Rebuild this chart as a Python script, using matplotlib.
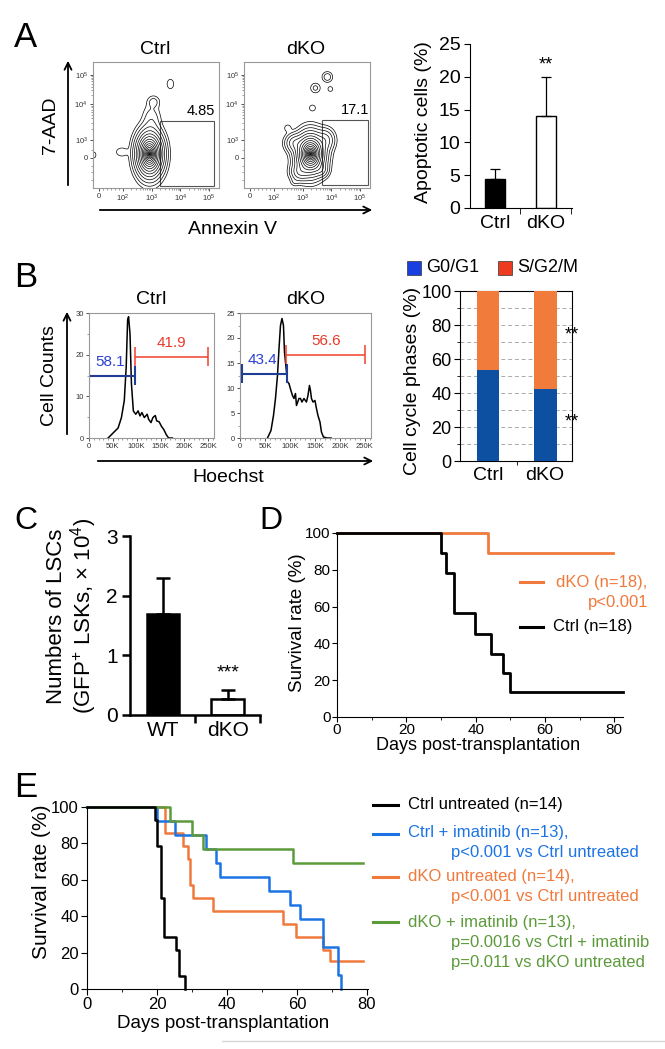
import numpy as np
import matplotlib
matplotlib.use('Agg')
import matplotlib.pyplot as plt
from matplotlib.patches import Rectangle, FancyArrowPatch
from matplotlib.lines import Line2D

plt.rcParams['font.family'] = ['Liberation Sans', 'DejaVu Sans']
plt.rcParams['mathtext.fontset'] = 'custom'
plt.rcParams['mathtext.rm'] = 'Liberation Sans'
plt.rcParams['mathtext.it'] = 'Liberation Sans:italic'
plt.rcParams['mathtext.bf'] = 'Liberation Sans:bold'

# ---------------- data ----------------
# A: flow plots, density blobs (x, y, sx, sy, weight)
facs_xticks = [6, 30, 59, 88, 117]
facs_xlabels = ['0', '$10^2$', '$10^3$', '$10^4$', '$10^5$']
facs_yticks = [30, 48, 84, 113]
facs_ylabels = ['0', '$10^3$', '$10^4$', '$10^5$']
ctrl_blobs = [(57, 34, 6.5, 11, 1.0), (59, 68, 5, 9, 0.025), (61, 86, 3.5, 3.5, 0.02),
              (29, 36, 4, 3, 0.012), (78, 104, 2.5, 3.5, 0.012), (1, 33, 2, 3, 0.008)]
dko_blobs = [(67, 34, 7, 10, 1.0), (51, 45, 5, 5, 0.1), (82, 48, 5, 6, 0.08),
             (56, 16, 5, 5, 0.1), (78, 18, 4, 4, 0.06),
             (69, 80, 2.5, 2.5, 0.01), (44, 60, 2.5, 2.5, 0.01), (51, 6, 2.5, 2.5, 0.01),
             (72, 100, 3, 3, 0.018), (84, 111, 3, 3, 0.025), (87, 99, 2, 2, 0.01)]
ctrl_gate = (68, 2, 122, 67)
dko_gate = (79, 3, 125, 68)
apop_gate_pct = ['4.85', '17.1']

# A: bar chart
apop_groups = ['Ctrl', 'dKO']
apop_mean = [4.4, 14.0]
apop_err = [1.6, 6.0]

# B: Hoechst histograms (x in K, counts)
ctrl_hist_k = [40, 61, 68, 74, 78, 81, 83, 86, 89, 93, 98, 103, 107, 111, 116, 122, 125,
               130, 134, 139, 142, 147, 152, 157, 162, 167, 175]
ctrl_hist_n = [0, 2.4, 4.9, 9, 17, 28.4, 29.1, 25, 13, 6.5, 5.7, 6.5, 5.3, 6.1, 4.9, 5.7,
               4.5, 3.7, 4.9, 5.4, 4.1, 3.9, 2.8, 2.0, 0.8, 0, 0]
dko_hist_k = [55, 62, 67, 71, 75, 78, 81, 84, 87, 89, 93, 95, 98, 101, 105, 108, 111, 113,
              118, 121, 124, 128, 133, 136, 139, 141, 143, 146, 150, 153, 156, 160, 163,
              167, 174, 182]
dko_hist_n = [0, 1.5, 4.5, 7.9, 12.5, 17.8, 22.5, 23.9, 22.5, 17.2, 13.2, 11.2, 10.9, 9.8,
              8.5, 7.9, 8.9, 6.5, 7.9, 7.9, 7.2, 7.9, 7.2, 8.5, 10.5, 9.5, 7.9, 7.2, 7.5,
              5.9, 4.5, 3.2, 1.2, 0.2, 0, 0]
# gates: (start K, end K, level, label)
ctrl_gates = [(0, 96, 15.0, '58.1'), (96, 250, 19.5, '41.9')]
dko_gates = [(4, 95, 12.9, '43.4'), (93, 250, 16.7, '56.6')]

# B: cell cycle phases
cc_groups = ['Ctrl', 'dKO']
g0g1 = [53.5, 42.5]
s_g2m = [46.5, 57.5]

# C: LSC numbers
lsc_groups = ['WT', 'dKO']
lsc_mean = [1.7, 0.27]
lsc_err = [0.6, 0.15]

# D: survival
d_ctrl_days = [0, 30, 31.5, 33.7, 39.7, 44.5, 47.9, 49.8, 82.5]
d_ctrl_surv = [100, 89, 78, 56.5, 45, 34.5, 24, 13.5, 13.5]
d_dko_days = [0, 43.6, 79.6]
d_dko_surv = [100, 89, 89]

# E: survival with imatinib
e_ctrl_days = [0, 19.4, 20.0, 21.1, 22.1, 25.3, 26.3, 28.1]
e_ctrl_surv = [100, 92.9, 78.6, 50, 28.6, 21.4, 7.1, 0]
e_imat_days = [0, 20.0, 25.1, 34.0, 37.0, 38.0, 52.1, 57.9, 60.9, 67.4, 71.6, 72.6]
e_imat_surv = [100, 92.3, 84.6, 76.9, 69.2, 61.5, 53.8, 46.2, 38.5, 23.1, 7.7, 0]
e_dko_days = [0, 22.4, 27.3, 28.9, 29.4, 30.4, 35.9, 56.1, 59.8, 67.4, 69.5, 79.0]
e_dko_surv = [100, 85.7, 78.6, 71.4, 57.1, 50, 42.9, 35.7, 28.6, 21.4, 15.5, 15.5]
e_comb_days = [0, 23.7, 29.9, 33.2, 59.0, 79.0]
e_comb_surv = [100, 92.3, 84.6, 76.9, 69.2, 69.2]

BLUE_L = '#1c74e4'
ORANGE = '#f07a3c'
GREEN = '#5c9a3a'

# ---------------- helpers ----------------
W, H = 665, 1049
fig = plt.figure(figsize=(W / 100, H / 100), dpi=100)


def axes_px(l, t, r, b):
    return fig.add_axes([l / W, 1 - b / H, (r - l) / W, (b - t) / H])


def ftext(x, y, s, **kw):
    fig.text(x / W, 1 - y / H, s, **kw)


def farrow(x1, y1, x2, y2):
    fig.add_artist(FancyArrowPatch((x1 / W, 1 - y1 / H), (x2 / W, 1 - y2 / H),
                                   transform=fig.transFigure, color='k', lw=1.3,
                                   arrowstyle='->,head_length=0.5,head_width=0.25',
                                   mutation_scale=10))


def fline(x1, x2, y, color, lw=2.2):
    fig.add_artist(Line2D([x1 / W, x2 / W], [1 - y / H, 1 - y / H],
                          transform=fig.transFigure, color=color, lw=lw))


def blob_density(blobs, X, Y):
    Z = np.zeros_like(X)
    for bx, by, sx, sy, w in blobs:
        Z += w * np.exp(-0.5 * (((X - bx) / sx) ** 2 + ((Y - by) / sy) ** 2))
    return Z


# panel letters
for letter, x, y, fs in [('A', 14, 47, 25), ('B', 14, 287, 25), ('C', 14, 529, 23),
                         ('D', 259, 529, 23), ('E', 14, 797, 25)]:
    ftext(x, y, letter, fontsize=fs, va='baseline', ha='left')

# ---------------- A: contour plots ----------------
gx, gy = np.meshgrid(np.linspace(0, 127, 500), np.linspace(0, 126, 500))
ring_r = 3.25 * (np.arange(1, 19) / 18) ** 1.8
levels = np.sort(np.exp(-0.5 * ring_r ** 2))
xminor = []
for a, b in zip(facs_xticks[1:-1], facs_xticks[2:]):
    xminor += [a + np.log10(m) * (b - a) for m in range(2, 10)]
xminor += [6 + 4 * i for i in range(1, 6)]
yminor = []
for a, b in zip(facs_yticks[1:-1], facs_yticks[2:]):
    yminor += [a + np.log10(m) * (b - a) for m in range(2, 10)]
yminor += [8, 16, 22, 38]

for left, title, blobs, gate, pct in [(93, 'Ctrl', ctrl_blobs, ctrl_gate, apop_gate_pct[0]),
                                      (244, 'dKO', dko_blobs, dko_gate, apop_gate_pct[1])]:
    ax = axes_px(left, 62, left + 126, 188)
    ax.contour(gx, gy, blob_density(blobs, gx, gy), levels=levels, colors='k',
               linewidths=0.5)
    x0, y0, x1, y1 = gate
    ax.add_patch(Rectangle((x0, y0), x1 - x0, y1 - y0, fill=False, ec='#555', lw=0.8))
    ax.text(x1 + 1, y1 + 3, pct, ha='right', va='bottom', fontsize=10.5)
    ax.set_xlim(0, 127)
    ax.set_ylim(0, 126)
    ax.set_xticks(facs_xticks, facs_xlabels, fontsize=5.5)
    ax.set_yticks(facs_yticks, facs_ylabels, fontsize=5.5)
    ax.set_xticks(xminor, minor=True)
    ax.set_yticks(yminor, minor=True)
    ax.tick_params(length=2.2, width=0.6, pad=1.5, colors='#333')
    ax.tick_params(which='minor', length=1.3, width=0.4, colors='#555')
    for s in ax.spines.values():
        s.set_color('#999')
        s.set_linewidth(0.8)
    ftext(left + 62, 49, title, fontsize=14, ha='center', va='center')

farrow(68, 188, 68, 58)
ftext(51, 125, '7-AAD', fontsize=14, rotation=90, ha='center', va='center')
farrow(97, 210, 375, 210)
ftext(232, 229, 'Annexin V', fontsize=14, ha='center', va='center')

# ---------------- A: apoptotic bar ----------------
ax = axes_px(470, 44, 572, 208)
xa = np.arange(len(apop_groups))
ax.bar(xa, apop_mean, width=0.41, color=['k', 'w'], edgecolor='k', lw=1)
ax.errorbar(xa, apop_mean, yerr=[np.zeros(2), apop_err], fmt='none', ecolor='k',
            elinewidth=0.9, capsize=3.5, capthick=0.9)
ax.text(1, 21.8, '**', ha='center', va='center', fontsize=13)
ax.set_xlim(-0.49, 1.51)
ax.set_ylim(0, 25)
ax.set_yticks(range(0, 26, 5))
ax.set_xticks(xa, apop_groups)
ax.set_xticks([0.5, 1.5], minor=True)
ax.tick_params(axis='x', which='major', length=0, pad=5, labelsize=14)
ax.tick_params(axis='x', which='minor', length=4, direction='out')
ax.tick_params(axis='y', labelsize=14, length=4, pad=3)
for s in ['top', 'right']:
    ax.spines[s].set_visible(False)
ftext(423, 122, 'Apoptotic cells (%)', fontsize=14, rotation=90, ha='center', va='center')

# ---------------- B: histograms ----------------
for left, right, title, hk, hn, gates, ymax, ystep in [
        (89, 214, 'Ctrl', ctrl_hist_k, ctrl_hist_n, ctrl_gates, 30, 10),
        (240, 371, 'dKO', dko_hist_k, dko_hist_n, dko_gates, 25, 5)]:
    ax = axes_px(left, 313, right, 438)
    ax.plot(np.array(hk) * 1000, hn, color='k', lw=1.1)
    gcols = [('#1f3c96', '#2d3fd0', 1.5), ('#f0402c', '#e83a2a', 1.1)]
    for (g0, g1, lev, lab), (lc, tc, glw) in zip(gates, gcols):
        ax.hlines(lev, g0 * 1000, g1 * 1000, color=lc, lw=glw)
        ax.vlines([g0 * 1000, g1 * 1000], lev - ymax * 0.075, lev + ymax * 0.075, color=lc,
                  lw=glw)
        ax.text((g0 + g1) / 2 * 1000 if g0 > 50 else 45000, lev + ymax * 0.055, lab,
                color=tc, ha='center', va='bottom', fontsize=11)
    ax.set_xlim(0, 262144)
    ax.set_ylim(0, ymax)
    ax.set_xticks(range(0, 250001, 50000), ['0', '50K', '100K', '150K', '200K', '250K'],
                  fontsize=5.5)
    ax.set_xticks(range(0, 262144, 10000), minor=True)
    ax.set_yticks(range(0, ymax + 1, ystep))
    ax.set_yticks(np.arange(0, ymax + 0.1, ystep / 2), minor=True)
    ax.tick_params(labelsize=5.5, length=2.2, width=0.6, pad=1.5, colors='#333')
    ax.tick_params(which='minor', length=1.2, width=0.4, colors='#555')
    for s in ax.spines.values():
        s.set_color('#999')
        s.set_linewidth(0.8)
    ftext((left + right) / 2, 299, title, fontsize=14, ha='center', va='center')

farrow(67, 437, 67, 309)
ftext(50, 376, 'Cell Counts', fontsize=14, rotation=90, ha='center', va='center')
farrow(95, 461, 376, 461)
ftext(228, 478, 'Hoechst', fontsize=14, ha='center', va='center')

# ---------------- B: cell cycle bars ----------------
ax = axes_px(460, 291, 572, 461)
xb = np.arange(len(cc_groups))
ax.bar(xb, g0g1, width=0.4, color='#0d4fa0', zorder=3)
ax.bar(xb, s_g2m, bottom=g0g1, width=0.4, color='#f07b3a', zorder=3)
ax.set_xlim(-0.49, 1.47)
ax.set_ylim(0, 100)
ax.set_yticks(range(0, 101, 20))
ax.set_yticks(range(0, 101, 10), minor=True)
ax.yaxis.grid(True, which='both', ls=(0, (4, 3)), color='#aaa', lw=0.7)
ax.set_axisbelow(True)
ax.set_xticks(xb, cc_groups)
ax.set_xticks([0.5], minor=True)
ax.tick_params(axis='x', which='major', length=0, pad=4, labelsize=14)
ax.tick_params(axis='x', which='minor', length=3)
ax.tick_params(axis='y', labelsize=13, length=4, pad=2)
ax.tick_params(axis='y', which='minor', length=2)
ax.text(1.47, 74, '**', ha='center', va='center', fontsize=13, clip_on=False)
ax.text(1.47, 23, '**', ha='center', va='center', fontsize=13, clip_on=False)
ftext(412, 381, 'Cell cycle phases (%)', fontsize=14, rotation=90, ha='center', va='center')

for x, col, lab in [(407, '#1a3fe0', 'G0/G1'), (498, '#ee3b1f', 'S/G2/M')]:
    fig.add_artist(Rectangle((x / W, 1 - 275 / H), 14 / W, 14 / H, transform=fig.transFigure,
                             facecolor=col, edgecolor='#333', lw=0.5))
    ftext(x + 19, 268, lab, fontsize=13, ha='left', va='center')

# ---------------- C: LSC numbers ----------------
ax = axes_px(130, 536, 260, 715)
xc = np.arange(len(lsc_groups))
ax.bar(xc, lsc_mean, width=0.5, color=['k', 'w'], edgecolor='k', lw=1.8)
ax.errorbar(xc, lsc_mean, yerr=[np.zeros(2), lsc_err], fmt='none', ecolor='k',
            elinewidth=1.8, capsize=5, capthick=1.8)
ax.text(1, 0.7, '***', ha='center', va='center', fontsize=14)
ax.set_xlim(-0.51, 1.5)
ax.set_ylim(0, 3)
ax.set_yticks([0, 1, 2, 3])
ax.set_xticks(xc, lsc_groups)
ax.set_xticks([0.5, 1.5], minor=True)
ax.tick_params(axis='x', which='major', length=0, pad=4, labelsize=15)
ax.tick_params(axis='x', which='minor', length=6, width=1.8)
ax.tick_params(axis='y', labelsize=15, length=6, width=1.8, pad=3)
for s in ['top', 'right']:
    ax.spines[s].set_visible(False)
for s in ['left', 'bottom']:
    ax.spines[s].set_linewidth(1.8)
ftext(57, 616, 'Numbers of LSCs', fontsize=16, rotation=90, ha='center', va='center')
ftext(84, 616, '(GFP$^{+}$ LSKs, × 10$^{4}$)', fontsize=16, rotation=90, ha='center',
      va='center')

# ---------------- D: survival ----------------
ax = axes_px(337, 533, 623, 717)
ax.step(d_dko_days, d_dko_surv, where='post', color=ORANGE, lw=2, clip_on=False)
ax.step(d_ctrl_days, d_ctrl_surv, where='post', color='k', lw=2, clip_on=False)
ax.set_xlim(0, 82.5)
ax.set_ylim(0, 100)
ax.set_xticks(range(0, 81, 20))
ax.set_xticks(range(10, 81, 20), minor=True)
ax.set_yticks(range(0, 101, 20))
ax.tick_params(labelsize=11, length=3.5, pad=1)
ax.tick_params(which='minor', length=2.5)
for s in ['top', 'right']:
    ax.spines[s].set_visible(False)
ftext(298, 623, 'Survival rate (%)', fontsize=13.5, rotation=90, ha='center', va='center')
ftext(478, 746, 'Days post-transplantation', fontsize=13, ha='center', va='center')
fline(520, 543, 582, ORANGE)
ftext(556, 582, 'dKO (n=18),', color=ORANGE, fontsize=12, ha='left', va='center')
ftext(648, 603, 'p<0.001', color=ORANGE, fontsize=12, ha='right', va='center')
fline(520, 543, 627, 'k')
ftext(553, 627, 'Ctrl (n=18)', color='k', fontsize=12, ha='left', va='center')

# ---------------- E: survival with imatinib ----------------
ax = axes_px(87, 807, 368, 989)
ax.step(e_dko_days, e_dko_surv, where='post', color=ORANGE, lw=1.8, clip_on=False)
ax.step(e_imat_days, e_imat_surv, where='post', color=BLUE_L, lw=1.8, clip_on=False)
ax.step(e_comb_days, e_comb_surv, where='post', color=GREEN, lw=1.8, clip_on=False)
ax.step(e_ctrl_days, e_ctrl_surv, where='post', color='k', lw=1.8, clip_on=False)
ax.set_xlim(0, 80.3)
ax.set_ylim(0, 100)
ax.set_xticks(range(0, 81, 20))
ax.set_xticks(range(10, 81, 20), minor=True)
ax.set_yticks(range(0, 101, 20))
ax.tick_params(labelsize=12, length=4, pad=2)
ax.tick_params(which='minor', length=2.5)
for s in ['top', 'right']:
    ax.spines[s].set_visible(False)
ftext(42, 882, 'Survival rate (%)', fontsize=15, rotation=90, ha='center', va='center')
ftext(223, 1023, 'Days post-transplantation', fontsize=13.5, ha='center', va='center')

legend_rows = [('k', 805, [(408, 805, 'Ctrl untreated (n=14)')]),
               (BLUE_L, 834, [(408, 833, 'Ctrl + imatinib (n=13),'),
                              (451, 853, 'p<0.001 vs Ctrl untreated')]),
               (ORANGE, 877, [(408, 877, 'dKO untreated (n=14),'),
                              (451, 897, 'p<0.001 vs Ctrl untreated')]),
               (GREEN, 922, [(408, 922, 'dKO + imatinib (n=13),'),
                             (451, 942, 'p=0.0016 vs Ctrl + imatinib'),
                             (451, 962, 'p=0.011 vs dKO untreated')])]
for col, ly, texts in legend_rows:
    fline(373, 398, ly, col)
    for tx, ty, s in texts:
        ftext(tx, ty, s, color=col, fontsize=12, ha='left', va='center')

fig.add_artist(Line2D([222 / W, 1], [1 - 1041 / H, 1 - 1041 / H], transform=fig.transFigure,
                      color='#d8d8d8', lw=1))

fig.savefig('out.png', dpi=100)
